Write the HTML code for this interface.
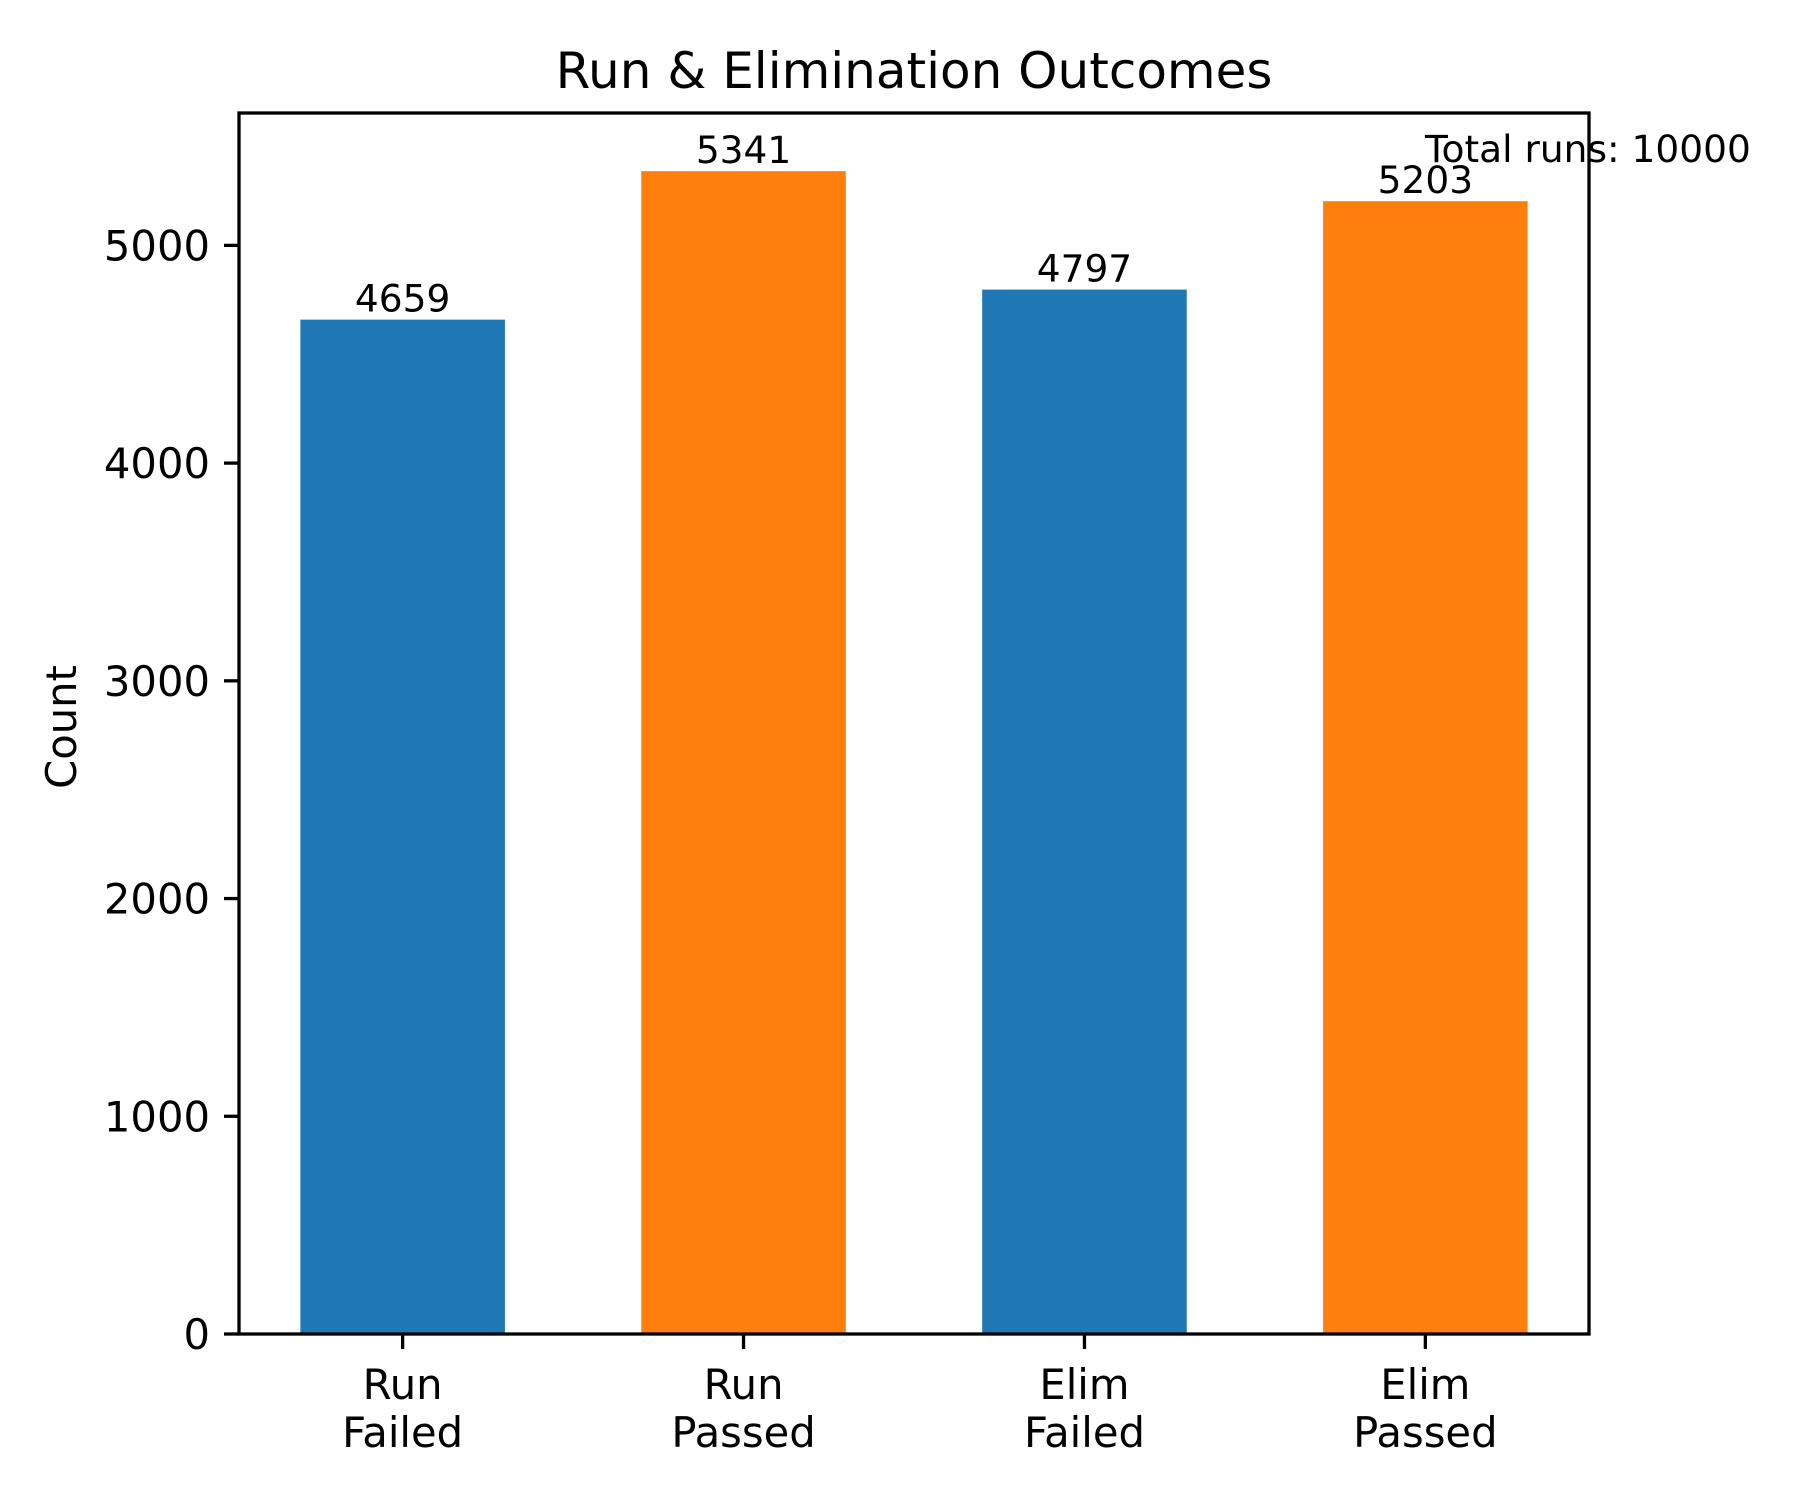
<!DOCTYPE html>
<html><head><meta charset="utf-8"><style>
html,body{margin:0;padding:0;background:#fff;}
svg{display:block;font-family:"DejaVu Sans","Liberation Sans",sans-serif;}
</style></head><body>
<svg id="chart" width="1800" height="1500" viewBox="0 0 1800 1500" xmlns="http://www.w3.org/2000/svg">
<text x="914" y="88" font-size="50" text-anchor="middle">Run &amp; Elimination Outcomes</text>
<text transform="translate(76,727) rotate(-90)" font-size="41.7" text-anchor="middle">Count</text>
<g id="bars"></g>
<g id="yticks"></g>
<g id="xticks"></g>
<rect x="239" y="113" width="1350" height="1221" fill="none" stroke="#000" stroke-width="3.3"/>
<text x="1425" y="162" font-size="37.5">Total runs: 10000</text>
</svg>
<script>
const categories = [["Run","Failed"],["Run","Passed"],["Elim","Failed"],["Elim","Passed"]];
const counts = [4659, 5341, 4797, 5203];
const barColors = ["#1f77b4","#ff7f0e","#1f77b4","#ff7f0e"];
const yTickValues = [0, 1000, 2000, 3000, 4000, 5000];

const L=239, R=1589, T=113, B=1334;
const yMax = Math.max(...counts)*1.05;
const xMin=-0.48, xMax=categories.length-1+0.48;
function xs(v){return L+(v-xMin)/(xMax-xMin)*(R-L);}
function ys(v){return B-v/yMax*(B-T);}
const NS="http://www.w3.org/2000/svg";
function mk(tag,attrs,parent){const e=document.createElementNS(NS,tag);for(const k in attrs)e.setAttribute(k,attrs[k]);parent.appendChild(e);return e;}
const gb=document.getElementById('bars'), gy=document.getElementById('yticks'), gx=document.getElementById('xticks');
const bw=0.6*(xs(1)-xs(0));
counts.forEach((c,i)=>{
  const r=mk('rect',{x:xs(i)-bw/2,y:ys(c),width:bw,height:B-ys(c),fill:barColors[i]},gb);
  
  
  const t=mk('text',{x:xs(i),y:ys(c)-8,'font-size':37.5,'text-anchor':'middle'},gb);
  t.textContent=c;
  
  
  const tk=mk('line',{x1:xs(i),x2:xs(i),y1:B,y2:B+15,stroke:'#000','stroke-width':3.3},gx);
  
  
  categories[i].forEach((ln,j)=>{
    const xt=mk('text',{x:xs(i),y:1399+j*48,'font-size':41.7,'text-anchor':'middle'},gx);
    xt.textContent=ln;
    
    
  });
});
yTickValues.forEach(v=>{
  const tk=mk('line',{x1:L-15,x2:L,y1:ys(v),y2:ys(v),stroke:'#000','stroke-width':3.3},gy);
  
  
  const t=mk('text',{x:L-29,y:ys(v)+15,'font-size':41.7,'text-anchor':'end'},gy);
  t.textContent=v;
  
  
});
</script>
</body></html>
